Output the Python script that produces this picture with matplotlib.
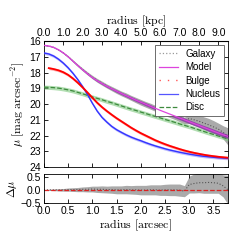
import matplotlib
matplotlib.use("Agg")
import matplotlib.pyplot as plt
import numpy as np
from matplotlib.lines import Line2D

# radius samples [arcsec]
radius = [0.0, 0.1, 0.2, 0.3, 0.4, 0.5, 0.6, 0.7, 0.8, 0.9,
          1.0, 1.1, 1.2, 1.3, 1.4, 1.5, 1.6, 1.7, 1.8, 1.9,
          2.0, 2.1, 2.2, 2.3, 2.4, 2.5, 2.6, 2.7, 2.8, 2.9,
          3.0, 3.1, 3.2, 3.3, 3.4, 3.5, 3.6, 3.7, 3.8]

model_mu = [16.27, 16.31, 16.40, 16.55, 16.75, 17.00, 17.28, 17.56, 17.83, 18.08,
            18.32, 18.52, 18.70, 18.87, 19.03, 19.18, 19.33, 19.47, 19.61, 19.75,
            19.88, 20.01, 20.14, 20.27, 20.40, 20.52, 20.64, 20.76, 20.88, 21.00,
            21.12, 21.24, 21.36, 21.48, 21.60, 21.72, 21.84, 21.95, 22.06]

model_err = [0.02, 0.02, 0.02, 0.03, 0.03, 0.03, 0.04, 0.04, 0.04, 0.05,
             0.05, 0.06, 0.06, 0.07, 0.07, 0.08, 0.08, 0.08, 0.09, 0.09,
             0.09, 0.10, 0.10, 0.10, 0.10, 0.11, 0.11, 0.11, 0.11, 0.12,
             0.12, 0.12, 0.12, 0.12, 0.13, 0.13, 0.13, 0.13, 0.13]

bulge_mu = [np.nan, 17.72, 17.78, 17.86, 17.98, 18.15, 18.38, 18.65, 18.95, 19.27,
            19.60, 19.92, 20.20, 20.45, 20.68, 20.90, 21.10, 21.30, 21.50, 21.68,
            21.85, 22.00, 22.15, 22.30, 22.43, 22.55, 22.66, 22.76, 22.86, 22.95,
            23.03, 23.10, 23.16, 23.22, 23.27, 23.31, 23.35, 23.38, 23.41]

nucleus_mu = [16.76, 16.82, 16.95, 17.15, 17.40, 17.70, 18.05, 18.45, 18.90, 19.40,
              19.95, 20.45, 20.85, 21.15, 21.42, 21.63, 21.80, 21.96, 22.10, 22.22,
              22.33, 22.45, 22.56, 22.66, 22.75, 22.84, 22.92, 22.99, 23.06, 23.12,
              23.18, 23.23, 23.28, 23.32, 23.35, 23.38, 23.41, 23.43, 23.45]

disc_mu = [18.93, 18.94, 18.96, 18.99, 19.04, 19.10, 19.17, 19.26, 19.35, 19.45,
           19.55, 19.64, 19.73, 19.83, 19.92, 20.02, 20.12, 20.22, 20.32, 20.41,
           20.51, 20.60, 20.70, 20.79, 20.88, 20.98, 21.07, 21.16, 21.26, 21.35,
           21.44, 21.54, 21.64, 21.74, 21.84, 21.93, 22.03, 22.12, 22.22]

# residual (model - galaxy) and galaxy uncertainty
delta_mu = [0.00, 0.00, 0.00, 0.00, 0.00, 0.01, 0.01, 0.01, 0.02, 0.02,
            0.03, 0.02, 0.02, 0.01, 0.01, 0.00, 0.00, 0.01, 0.00, 0.00,
            -0.01, -0.01, 0.00, 0.00, -0.01, 0.00, 0.00, 0.00, -0.01, -0.05,
            0.20, 0.24, 0.27, 0.27, 0.28, 0.27, 0.25, 0.15, 0.00]

galaxy_err = [0.01, 0.02, 0.03, 0.04, 0.05, 0.06, 0.07, 0.08, 0.09, 0.10,
              0.11, 0.12, 0.13, 0.13, 0.14, 0.15, 0.15, 0.16, 0.16, 0.17,
              0.18, 0.18, 0.19, 0.19, 0.20, 0.21, 0.22, 0.22, 0.23, 0.21,
              0.32, 0.36, 0.38, 0.40, 0.41, 0.40, 0.38, 0.42, 0.55]

kpc_per_arcsec = 2.5
kpc_ticks = [0, 1, 2, 3, 4, 5, 6, 7, 8, 9]

r = np.array(radius)
model = np.array(model_mu)
merr = np.array(model_err)
dmu = np.array(delta_mu)
err = np.array(galaxy_err)
galaxy = model - dmu

plt.rcParams['font.family'] = ['Liberation Sans', 'DejaVu Sans']
plt.rcParams['mathtext.fontset'] = 'cm'
plt.rcParams['font.size'] = 7.5

fig = plt.figure(figsize=(2.4, 2.4), dpi=100)
ax = fig.add_axes([0.183, 0.304, 0.767, 0.525])
axr = fig.add_axes([0.183, 0.154, 0.767, 0.121])

# main panel
ax.fill_between(r, galaxy - err, galaxy + err, color='#aaaaaa', lw=0, zorder=1)
ax.plot(r, galaxy, ls=':', color='#555555', lw=0.8, zorder=2)
ax.fill_between(r, np.array(disc_mu) - 0.13, np.array(disc_mu) + 0.13,
                color='#7fc97f', alpha=0.6, lw=0, zorder=3)
ax.plot(r, disc_mu, ls='--', color='#3d8a3d', lw=0.9, zorder=4)
ax.fill_between(r, np.array(nucleus_mu) - 0.09, np.array(nucleus_mu) + 0.09,
                color='#8080ff', alpha=0.5, lw=0, zorder=3)
ax.plot(r, nucleus_mu, color='#3333ff', lw=1.0, zorder=4)
ax.fill_between(r, np.array(bulge_mu) - 0.09, np.array(bulge_mu) + 0.09,
                color='#ff6060', alpha=0.5, lw=0, zorder=3)
ax.plot(r, bulge_mu, color='#ff0000', lw=1.3, zorder=4)
ax.fill_between(r, model - merr, model + merr, color='#8a2aa8', alpha=0.75,
                lw=0, zorder=5)
ax.plot(r, model, color='#dd44dd', lw=0.9, zorder=6)

ax.set_xlim(0, 3.8)
ax.set_ylim(24, 16)
ax.set_yticks([16, 17, 18, 19, 20, 21, 22, 23, 24])
ax.set_xticks([0, 0.5, 1.0, 1.5, 2.0, 2.5, 3.0, 3.5])
ax.tick_params(direction='in', right=True, labelbottom=False, length=3, width=0.6, pad=2)
ax.set_ylabel(r'$\mu\ \mathrm{[mag\ arcsec^{-2}]}$', fontsize=8.5, labelpad=2)

top = ax.secondary_xaxis('top', functions=(lambda x: x * kpc_per_arcsec,
                                           lambda k: k / kpc_per_arcsec))
top.set_xticks(kpc_ticks)
top.set_xticklabels([f"{k:.1f}" for k in kpc_ticks])
top.tick_params(direction='in', length=3, width=0.6, pad=2)
top.set_xlabel(r'$\mathrm{radius\ [kpc]}$', fontsize=8.5, labelpad=3)

handles = [
    Line2D([], [], ls=':', color='#999999', lw=0.9),
    Line2D([], [], color='#dd44dd', lw=0.9),
    Line2D([], [], ls=(0, (1, 5)), color='#ff5555', lw=1.0),
    Line2D([], [], color='#5555ff', lw=0.9),
    Line2D([], [], ls='--', color='#3d8a3d', lw=0.9),
]
leg = ax.legend(handles, ['Galaxy', 'Model', 'Bulge', 'Nucleus', 'Disc'],
                loc='upper right', fontsize=7, handlelength=2.0, handletextpad=0.7,
                labelspacing=0.35, borderpad=0.4, fancybox=False,
                borderaxespad=0.4, framealpha=1)
leg.get_frame().set_edgecolor('#555555')
leg.get_frame().set_linewidth(0.6)

# residual panel
axr.fill_between(r, dmu - err, dmu + err, color='#aaaaaa', lw=0)
axr.plot(r, dmu, ls=':', color='#555555', lw=0.8)
axr.axhline(0, ls='--', color='#dd2222', lw=0.9)
axr.set_xlim(0, 3.8)
axr.set_ylim(-0.5, 0.6)
axr.set_yticks([-0.5, 0.0, 0.5])
axr.set_xticks([0, 0.5, 1.0, 1.5, 2.0, 2.5, 3.0, 3.5])
axr.tick_params(direction='in', top=True, right=True, length=3, width=0.6, pad=2)
axr.set_ylabel(r'$\Delta\mu$', fontsize=8.5, labelpad=1)
axr.set_xlabel(r'$\mathrm{radius\ [arcsec]}$', fontsize=8.5, labelpad=1)

for a in (ax, axr):
    for s in a.spines.values():
        s.set_linewidth(0.6)

fig.savefig('out.png', dpi=100)
